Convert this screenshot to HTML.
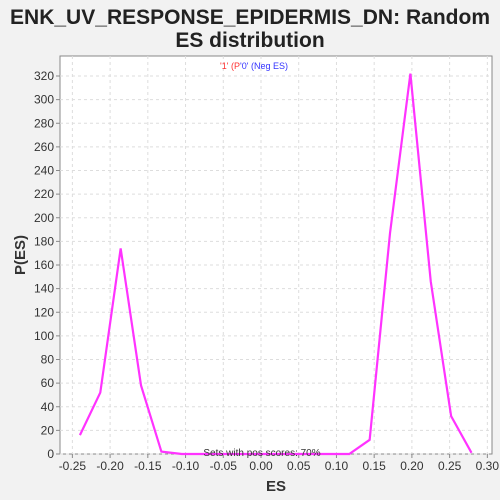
<!DOCTYPE html>
<html><head><meta charset="utf-8"><style>
body{margin:0;background:#f2f2f2;font-family:"Liberation Sans","DejaVu Sans",sans-serif;}
svg{display:block}
</style></head><body>
<svg width="500" height="500" xmlns="http://www.w3.org/2000/svg">
<text x="250" y="24" text-anchor="middle" font-size="21" font-weight="bold" fill="#222" textLength="480">ENK_UV_RESPONSE_EPIDERMIS_DN: Random</text>
<text x="250" y="47" text-anchor="middle" font-size="21" font-weight="bold" fill="#222">ES distribution</text>
<rect x="60" y="56" width="432" height="398" fill="#fff" stroke="#888"/>
<g id="grid"></g><g id="axes"></g>
<polyline id="line" fill="none" stroke="#ff33ff" stroke-width="2.2"/>
<text x="254" y="69" text-anchor="middle" font-size="9"><tspan fill="#ff3333">'1' (P</tspan><tspan fill="#3333ff">'0' (Neg ES)</tspan></text>
<text x="262" y="456" text-anchor="middle" font-size="10" fill="#333">Sets with pos scores: 70%</text>
<text x="276" y="491" text-anchor="middle" font-size="15" font-weight="bold" fill="#333">ES</text>
<text transform="translate(25,255) rotate(-90)" text-anchor="middle" font-size="15" font-weight="bold" fill="#333">P(ES)</text>
</svg>
<script>
const esValues=[-0.240,-0.213,-0.186,-0.159,-0.132,-0.105,-0.078,-0.051,-0.024,0.003,0.030,0.057,0.084,0.117,0.144,0.171,0.198,0.225,0.252,0.279];
const densityValues=[16,52,174,58,2,0,0,0,0,0,0,0,0,0,12,187,322,146,32,1];
const xTicks=[-0.25,-0.20,-0.15,-0.10,-0.05,0.00,0.05,0.10,0.15,0.20,0.25,0.30];
const yTicks=[0,20,40,60,80,100,120,140,160,180,200,220,240,260,280,300,320];
const sx=v=>261+v*754.5, sy=v=>454-v*1.18125;
const NS="http://www.w3.org/2000/svg";
const grid=document.getElementById('grid'), axes=document.getElementById('axes');
function mk(t,a,p){const e=document.createElementNS(NS,t);for(const k in a)e.setAttribute(k,a[k]);p.appendChild(e);return e;}
xTicks.forEach(t=>{const x=sx(t);
 const g=mk('line',{x1:x,x2:x,y1:56,y2:454,stroke:'#ddd','stroke-dasharray':'3,3'},grid);
 
 
 mk('line',{x1:x,x2:x,y1:454,y2:458,stroke:'#888'},axes);
 const l=mk('text',{x:x,y:470,'text-anchor':'middle','font-size':12,fill:'#333'},axes);l.textContent=t.toFixed(2);
 
 });
yTicks.forEach(t=>{const y=sy(t);
 const g=mk('line',{x1:60,x2:492,y1:y,y2:y,stroke:'#ddd','stroke-dasharray':'3,3'},grid);
 
 
 mk('line',{x1:56,x2:60,y1:y,y2:y,stroke:'#888'},axes);
 const l=mk('text',{x:54,y:y+4,'text-anchor':'end','font-size':12,fill:'#333'},axes);l.textContent=t;
 
 });
document.getElementById('line').setAttribute('points',esValues.map((v,i)=>sx(v)+','+sy(densityValues[i])).join(' '));
</script>
</body></html>
